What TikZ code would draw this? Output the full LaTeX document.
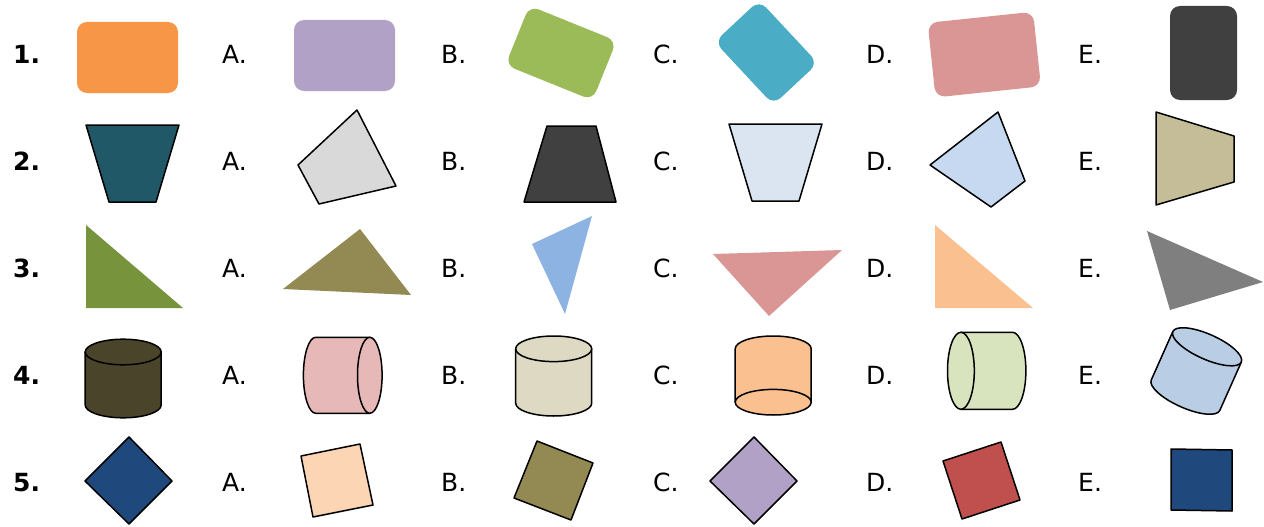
\documentclass[tikz,border=0pt]{standalone}
\usepackage{fontspec}
\setmainfont{DejaVu Sans}
\definecolor{c1a}{HTML}{F79646}
\definecolor{c1b}{HTML}{B2A1C7}
\definecolor{c1c}{HTML}{9BBB59}
\definecolor{c1d}{HTML}{4BACC6}
\definecolor{c1e}{HTML}{D99694}
\definecolor{c1f}{HTML}{404040}
\definecolor{c2a}{HTML}{215868}
\definecolor{c2b}{HTML}{D9D9D9}
\definecolor{c2c}{HTML}{404040}
\definecolor{c2d}{HTML}{DBE5F1}
\definecolor{c2e}{HTML}{C6D9F1}
\definecolor{c2f}{HTML}{C4BD97}
\definecolor{c3a}{HTML}{77933C}
\definecolor{c3b}{HTML}{938953}
\definecolor{c3c}{HTML}{8DB3E2}
\definecolor{c3d}{HTML}{D99694}
\definecolor{c3e}{HTML}{FAC090}
\definecolor{c3f}{HTML}{7F7F7F}
\definecolor{c4a}{HTML}{4A452A}
\definecolor{c4b}{HTML}{E6B9B8}
\definecolor{c4c}{HTML}{DDD9C3}
\definecolor{c4d}{HTML}{FAC090}
\definecolor{c4e}{HTML}{D7E4BD}
\definecolor{c4f}{HTML}{B9CDE5}
\definecolor{c5a}{HTML}{1F497D}
\definecolor{c5b}{HTML}{FCD5B5}
\definecolor{c5c}{HTML}{938953}
\definecolor{c5d}{HTML}{B2A1C7}
\definecolor{c5e}{HTML}{C0504D}
\definecolor{c5f}{HTML}{1F497D}
\begin{document}
\begin{tikzpicture}[x=1pt,y=-1pt,line join=round,
  ol/.style={draw=black,line width=1.5pt},
  rr/.style={rounded corners=10pt},
  numlbl/.style={anchor=base west,inner sep=0pt,font=\fontsize{25}{30}\selectfont\bfseries},
  optlbl/.style={anchor=base west,inner sep=0pt,font=\fontsize{25}{30}\selectfont}]
\useasboundingbox (0,0) rectangle (1264,527);
% labels
\foreach \r/\b in {1/64,2/170.5,3/277.5,4/384.5,5/491}{
  \node[numlbl] (n\r) at (13,\b) {\r.};
  \foreach \L/\x in {A/222,B/441,C/653,D/866,E/1078}{
    \node[optlbl] (l\r\L) at (\x,\b) {\L.};
  }
}
% row 1: rounded rectangles
\fill[c1a,rr] (77,22) rectangle (178,93);
\fill[c1b,rr] (294,20) rectangle (395,91);
\begin{scope}[shift={(561,53)},rotate=-22]
  \fill[c1c,rr] (-47,-32) rectangle (47,32);
\end{scope}
\begin{scope}[shift={(766.3,52.5)},rotate=-47]
  \fill[c1d,rr] (-43,-30.5) rectangle (43,30.5);
\end{scope}
\begin{scope}[shift={(984.3,54.6)},rotate=6]
  \fill[c1e,rr] (-53,-37.5) rectangle (53,37.5);
\end{scope}
\fill[c1f,rr] (1170,6) rectangle (1237,100);
% row 2: quadrilaterals
\filldraw[ol,fill=c2a] (86,125) -- (179,125) -- (156,202) -- (109,202) -- cycle;
\filldraw[ol,fill=c2b] (357,110) -- (396,186) -- (319,204) -- (298,165) -- cycle;
\filldraw[ol,fill=c2c] (547,126) -- (596,126) -- (616,202) -- (524,202) -- cycle;
\filldraw[ol,fill=c2d] (729,124) -- (822,124) -- (799,201) -- (752,201) -- cycle;
\filldraw[ol,fill=c2e] (998,112) -- (1025,181) -- (991,207) -- (930,165) -- cycle;
\filldraw[ol,fill=c2f] (1156,112) -- (1234,136) -- (1234,182) -- (1156,205) -- cycle;
% row 3: triangles
\fill[c3a] (86,225) -- (86,308) -- (183,308) -- cycle;
\fill[c3b] (283,289) -- (360,229) -- (411,295) -- cycle;
\fill[c3c] (532,244) -- (592,216) -- (565,314) -- cycle;
\fill[c3d] (713,254) -- (842,250) -- (769,316) -- cycle;
\fill[c3e] (935,225) -- (935,308) -- (1033,308) -- cycle;
\fill[c3f] (1147,231) -- (1263,282) -- (1170,310) -- cycle;
% row 4: cylinders
\filldraw[ol,fill=c4a] (85.2,352) -- (85.2,405) arc[start angle=180,end angle=0,x radius=38,y radius=12.8] -- (161.2,352) -- cycle;
\filldraw[ol,fill=c4a] (123.2,352) ellipse[x radius=38,y radius=12.8];
\filldraw[ol,fill=c4b] (315.7,413.3) arc[start angle=90,end angle=270,x radius=12.3,y radius=38] -- (369.8,337.3) -- (369.8,413.3) -- cycle;
\filldraw[ol,fill=c4b] (369.8,375.3) ellipse[x radius=12.3,y radius=38];
\filldraw[ol,fill=c4c] (515.7,348.8) -- (515.7,403.2) arc[start angle=180,end angle=0,x radius=38,y radius=12.8] -- (591.7,348.8) -- cycle;
\filldraw[ol,fill=c4c] (553.7,348.8) ellipse[x radius=38,y radius=12.8];
\filldraw[ol,fill=c4d] (735.2,348.8) arc[start angle=180,end angle=360,x radius=38,y radius=12.8] -- (811.2,402.2) -- (735.2,402.2) -- cycle;
\filldraw[ol,fill=c4d] (773.2,402.2) ellipse[x radius=38,y radius=12.8];
\filldraw[ol,fill=c4e] (960.9,332.3) -- (1012.5,332.3) arc[start angle=270,end angle=450,x radius=13.4,y radius=38.5] -- (960.9,409.3) -- cycle;
\filldraw[ol,fill=c4e] (960.9,370.8) ellipse[x radius=13.4,y radius=38.5];
\begin{scope}[shift={(1196.3,371)},rotate=-24]
  \filldraw[ol,fill=c4f] (-37.5,-26.5) -- (-37.5,26.5) arc[start angle=180,end angle=0,x radius=37.5,y radius=12.5] -- (37.5,-26.5) -- cycle;
  \filldraw[ol,fill=c4f] (0,-26.5) ellipse[x radius=37.5,y radius=12.5];
\end{scope}
% row 5: squares
\filldraw[ol,fill=c5a] (129,437) -- (172,481) -- (129,524) -- (85,481) -- cycle;
\filldraw[ol,fill=c5b] (301,456) -- (360,444) -- (373,505) -- (313,517) -- cycle;
\filldraw[ol,fill=c5c] (537,441) -- (593,463) -- (571,520) -- (514,498) -- cycle;
\filldraw[ol,fill=c5d] (754,437) -- (797,481) -- (754,524) -- (710,481) -- cycle;
\filldraw[ol,fill=c5e] (943,461) -- (1001,442) -- (1020,500) -- (962,519) -- cycle;
\filldraw[ol,fill=c5f] (1171,449) -- (1232,450) -- (1232,511) -- (1171,510) -- cycle;
\end{tikzpicture}
\end{document}
